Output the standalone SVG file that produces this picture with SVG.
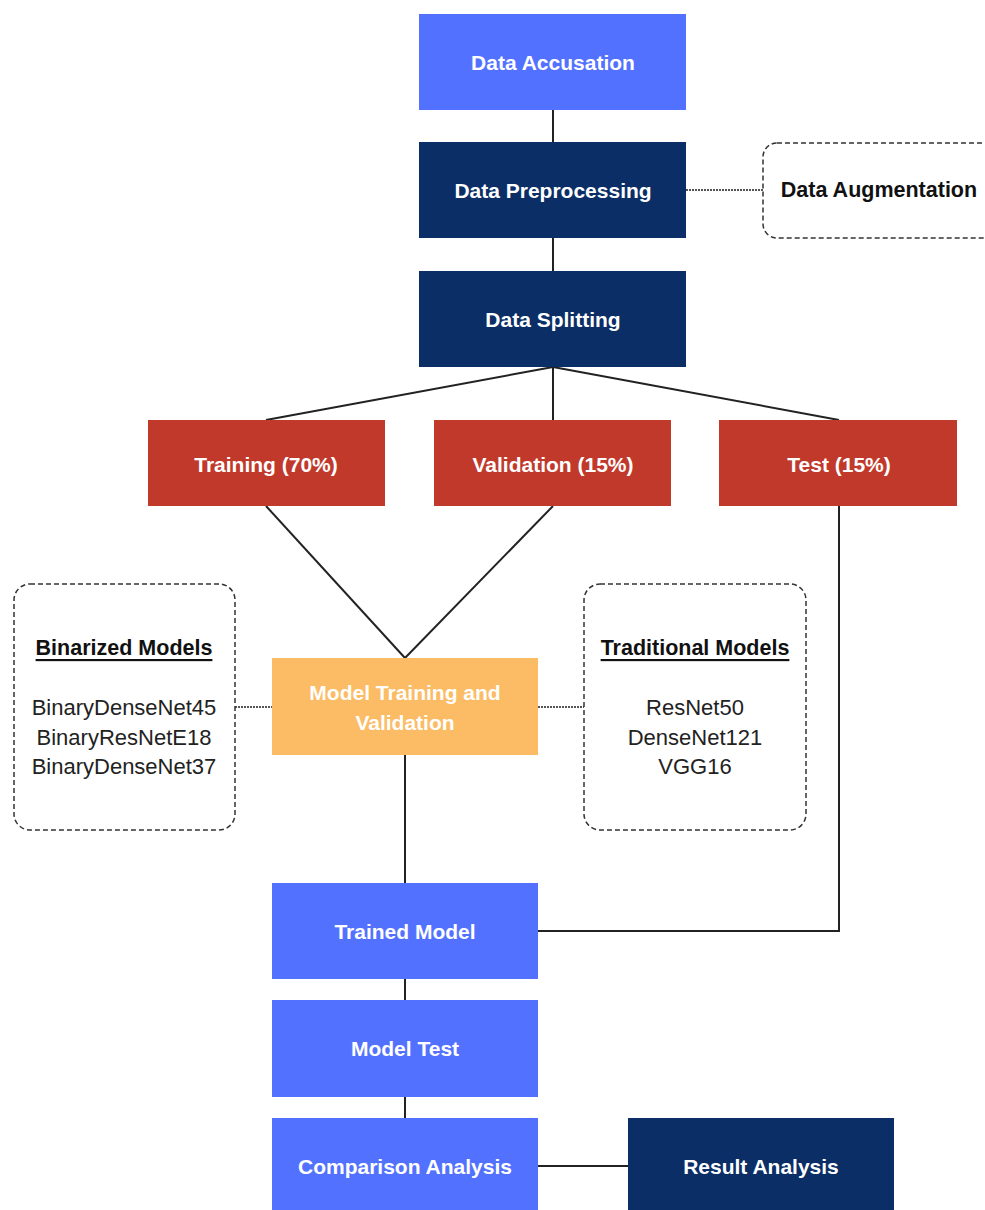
<svg xmlns="http://www.w3.org/2000/svg" width="985" height="1210" viewBox="0 0 985 1210">
  <style>
    .lbl { font-family: "Liberation Sans", Arial, sans-serif; font-weight: bold; font-size: 21px; fill: #ffffff; text-anchor: middle; dominant-baseline: central; }
    .dlbl { font-family: "Liberation Sans", Arial, sans-serif; font-weight: bold; font-size: 21.5px; fill: #111111; text-anchor: middle; dominant-baseline: central; }
    .item { font-family: "Liberation Sans", Arial, sans-serif; font-size: 22px; fill: #222222; text-anchor: middle; dominant-baseline: central; }
    .blue { fill: #5371FF; }
    .navy { fill: #0B2E66; }
    .red { fill: #C0392B; }
    .orange { fill: #FCBB65; }
    .dash { fill: #ffffff; stroke: #333333; stroke-width: 1.5; stroke-dasharray: 5 3; }
    .conn { stroke: #222222; stroke-width: 2; fill: none; }
    .dot { stroke: #555555; stroke-width: 2; stroke-dasharray: 2 1; fill: none; }
  </style>
  <rect width="985" height="1210" fill="#ffffff"/>

  <!-- connectors -->
  <g id="connectors">
    <line class="conn" x1="553" y1="110" x2="553" y2="142"/>
    <line class="conn" x1="553" y1="238" x2="553" y2="271"/>
    <line class="dot" x1="686" y1="190" x2="763" y2="190"/>
    <line class="conn" x1="553" y1="367" x2="266" y2="420"/>
    <line class="conn" x1="553" y1="367" x2="553" y2="420"/>
    <line class="conn" x1="553" y1="367" x2="839" y2="420"/>
    <line class="conn" x1="266" y1="506" x2="405" y2="658"/>
    <line class="conn" x1="553" y1="506" x2="405" y2="658"/>
    <line class="dot" x1="235" y1="707" x2="272" y2="707"/>
    <line class="dot" x1="538" y1="707" x2="584" y2="707"/>
    <line class="conn" x1="405" y1="755" x2="405" y2="883"/>
    <polyline class="conn" points="839,506 839,931 538,931"/>
    <line class="conn" x1="405" y1="979" x2="405" y2="1000"/>
    <line class="conn" x1="405" y1="1097" x2="405" y2="1118"/>
    <line class="conn" x1="538" y1="1166" x2="628" y2="1166"/>
  </g>

  <g id="data-accusation">
    <rect class="blue" x="419" y="14" width="267" height="96"/>
    <text class="lbl" x="553" y="62">Data Accusation</text>
  </g>
  <g id="data-preprocessing">
    <rect class="navy" x="419" y="142" width="267" height="96"/>
    <text class="lbl" x="553" y="190">Data Preprocessing</text>
  </g>
  <g id="data-augmentation">
    <rect class="dash" x="763" y="143" width="240" height="95" rx="14"/>
    <text class="dlbl" x="879" y="190">Data Augmentation</text>
  </g>
  <g id="data-splitting">
    <rect class="navy" x="419" y="271" width="267" height="96"/>
    <text class="lbl" x="553" y="319">Data Splitting</text>
  </g>
  <g id="training">
    <rect class="red" x="148" y="420" width="237" height="86"/>
    <text class="lbl" x="266" y="464">Training (70%)</text>
  </g>
  <g id="validation">
    <rect class="red" x="434" y="420" width="237" height="86"/>
    <text class="lbl" x="553" y="464">Validation (15%)</text>
  </g>
  <g id="test">
    <rect class="red" x="719" y="420" width="238" height="86"/>
    <text class="lbl" x="839" y="464">Test (15%)</text>
  </g>
  <g id="binarized-models">
    <rect class="dash" x="14" y="584" width="221" height="246" rx="16"/>
    <text class="dlbl" x="124" y="648" text-decoration="underline">Binarized Models</text>
    <text class="item" x="124" y="707">BinaryDenseNet45</text>
    <text class="item" x="124" y="737">BinaryResNetE18</text>
    <text class="item" x="124" y="766">BinaryDenseNet37</text>
  </g>
  <g id="model-training">
    <rect class="orange" x="272" y="658" width="266" height="97"/>
    <text class="lbl" x="405" y="692">Model Training and</text>
    <text class="lbl" x="405" y="722">Validation</text>
  </g>
  <g id="traditional-models">
    <rect class="dash" x="584" y="584" width="222" height="246" rx="16"/>
    <text class="dlbl" x="695" y="648" text-decoration="underline">Traditional Models</text>
    <text class="item" x="695" y="707">ResNet50</text>
    <text class="item" x="695" y="737">DenseNet121</text>
    <text class="item" x="695" y="766">VGG16</text>
  </g>
  <g id="trained-model">
    <rect class="blue" x="272" y="883" width="266" height="96"/>
    <text class="lbl" x="405" y="931">Trained Model</text>
  </g>
  <g id="model-test">
    <rect class="blue" x="272" y="1000" width="266" height="97"/>
    <text class="lbl" x="405" y="1048">Model Test</text>
  </g>
  <g id="comparison-analysis">
    <rect class="blue" x="272" y="1118" width="266" height="96"/>
    <text class="lbl" x="405" y="1166">Comparison Analysis</text>
  </g>
  <g id="result-analysis">
    <rect class="navy" x="628" y="1118" width="266" height="96"/>
    <text class="lbl" x="761" y="1166">Result Analysis</text>
  </g>
</svg>
